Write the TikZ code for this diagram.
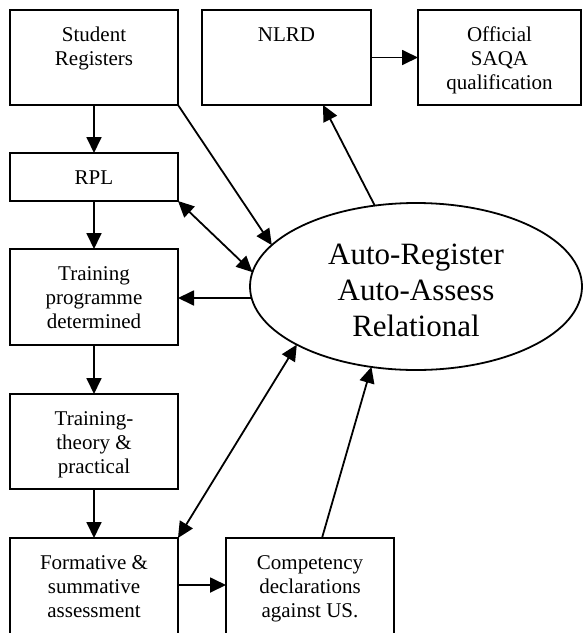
\documentclass[tikz,border=0pt]{standalone}
\usepackage{fontspec}
\setmainfont{Liberation Serif}
\usetikzlibrary{arrows.meta,calc,shapes.geometric}
\newcommand\bxtext[3]{\parbox[c][#2][t]{#1}{\centering\rule{0pt}{31pt}#3\par}}
\tikzset{
  box/.style={draw, line width=1.8pt, inner sep=0pt, outer sep=0pt, anchor=north west,
    font=\fontsize{21}{24}\selectfont},
  ell/.style={draw, ellipse, line width=1.8pt, inner sep=0pt, outer sep=0pt,
    minimum width=332pt, minimum height=167pt},
  bigtxt/.style={align=center, inner sep=0pt, font=\fontsize{31}{36}\selectfont},
  arr/.style={line width=1.8pt, -{Triangle[length=16pt,width=15pt]}},
  darr/.style={line width=1.8pt, {Triangle[length=16pt,width=15pt]}-{Triangle[length=16pt,width=15pt]}}
}
\begin{document}
\begin{tikzpicture}[x=1pt,y=-1pt]
\useasboundingbox (0,0) rectangle (583,633);
\node[box] (sr) at (10,10) {\bxtext{168pt}{95pt}{Student\\Registers}};
\node[box] (nlrd) at (202,10) {\bxtext{169pt}{95pt}{NLRD}};
\node[box] (saqa) at (418,10) {\bxtext{163pt}{95pt}{Official\\SAQA\\qualification}};
\node[box] (rpl) at (10,153) {\bxtext{168pt}{48pt}{RPL}};
\node[box] (tp) at (10,249) {\bxtext{168pt}{96pt}{Training\\programme\\determined}};
\node[box] (tt) at (10,394) {\bxtext{168pt}{95pt}{Training-\\theory \&\\practical}};
\node[box] (fs) at (10,538) {\bxtext{168pt}{110pt}{Formative \&\\summative\\assessment}};
\node[box] (cd) at (226,538) {\bxtext{168pt}{110pt}{Competency\\declarations\\against US.}};
\node[ell] (el) at (416,286.5) {};
\node[bigtxt] (eltxt) at (416,290.5) {Auto-Register\\Auto-Assess\\Relational};

\draw[arr] (sr.south) -- (rpl.north);
\draw[arr] (rpl.south) -- (tp.north);
\draw[arr] (tp.south) -- (tt.north);
\draw[arr] (tt.south) -- (fs.north);
\draw[arr] (sr.south east) -- (el.164.9);
\draw[darr] (rpl.south east) -- (el.175);
\draw[arr] (el.184) -- (tp.east |- el.184);
\draw[darr] (fs.north east) -- (el.206.9);
\coordinate (cdtop) at ($(cd.north)+(12,0)$);
\draw[arr] (cdtop) -- (el.241.7);
\coordinate (nlbot) at ($(nlrd.south)+(36.5,0)$);
\draw[arr] (el.117.8) -- (nlbot);
\draw[arr] (nlrd.east) -- (saqa.west);
\coordinate (fsr) at ($(fs.north east)+(0,47)$);
\draw[arr] (fsr) -- (fsr -| cd.west);
\end{tikzpicture}
\end{document}
